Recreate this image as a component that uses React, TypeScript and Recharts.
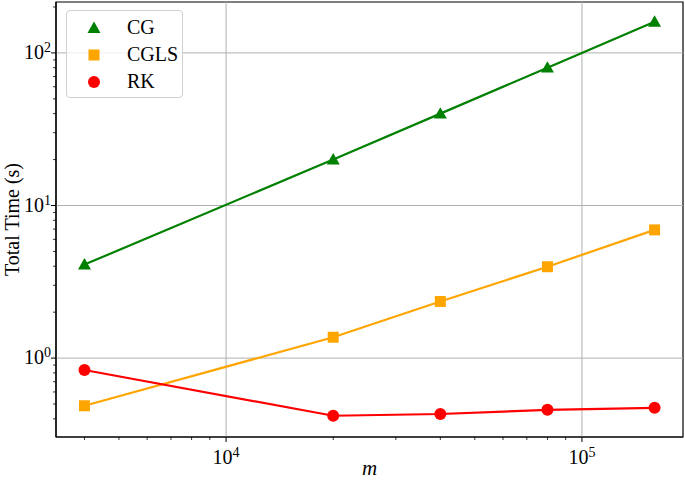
import React from 'react';
import {
  LineChart,
  Line,
  XAxis,
  YAxis,
  ReferenceArea,
  ReferenceLine,
} from 'recharts';

const mValues = [4000, 20000, 40000, 80000, 160000];
const cgTimes = [4.1, 20, 40, 80, 160];
const cglsTimes = [0.487, 1.37, 2.35, 3.97, 6.92];
const rkTimes = [0.835, 0.419, 0.43, 0.458, 0.472];

const xMajor = [1e4, 1e5];
const xMinor = [4000, 5000, 6000, 7000, 8000, 9000, 20000, 30000, 40000, 50000, 60000, 70000, 80000, 90000];
const yMajor = [1, 10, 100];
const yMinor = [0.4, 0.5, 0.6, 0.7, 0.8, 0.9, 2, 3, 4, 5, 6, 7, 8, 9, 20, 30, 40, 50, 60, 70, 80, 90, 200];

const xDomain = [3327, 192300];
const yDomain = [0.304, 215.6];

const FONT = '"Liberation Serif", "DejaVu Serif", serif';

const data = mValues.map((m, i) => ({
  m,
  cg: cgTimes[i],
  cgls: cglsTimes[i],
  rk: rkTimes[i],
}));

const series = [
  { key: 'cg', name: 'CG', color: '#008000', marker: 'triangle' },
  { key: 'cgls', name: 'CGLS', color: '#ffa500', marker: 'square' },
  { key: 'rk', name: 'RK', color: '#ff0000', marker: 'circle' },
];

function Marker({ cx, cy, color, marker }: any) {
  if (cx == null || cy == null) return null;
  if (marker === 'triangle') {
    const s = 6.5;
    return (
      <polygon
        points={`${cx},${cy - s} ${cx - s},${cy + s * 0.75} ${cx + s},${cy + s * 0.75}`}
        fill={color}
      />
    );
  }
  if (marker === 'square') {
    return <rect x={cx - 5.5} y={cy - 5.5} width={11} height={11} fill={color} />;
  }
  return <circle cx={cx} cy={cy} r={6} fill={color} />;
}

const powLabel = (v: number) => Math.round(Math.log10(v));
const labelStyle = { fontFamily: FONT, fontSize: 20 };
const supStyle = { fontFamily: FONT, fontSize: 14 };

function XTick({ x, y, payload }: any) {
  const major = xMajor.includes(payload.value);
  return (
    <g>
      <line x1={x} x2={x} y1={y} y2={y + (major ? 5 : 3)} stroke="#000" strokeWidth={major ? 1 : 0.8} />
      {major && (
        <text x={x} y={y + 27} textAnchor="middle" fill="#000" style={labelStyle}>
          10<tspan dy={-7} style={supStyle}>{powLabel(payload.value)}</tspan>
        </text>
      )}
    </g>
  );
}

function YTick({ x, y, payload }: any) {
  const major = yMajor.includes(payload.value);
  return (
    <g>
      <line x1={x} x2={x - (major ? 5 : 3)} y1={y} y2={y} stroke="#000" strokeWidth={major ? 1 : 0.8} />
      {major && (
        <text x={x - 5} y={y + 6} textAnchor="end" fill="#000" style={labelStyle}>
          10<tspan dy={-7} style={supStyle}>{powLabel(payload.value)}</tspan>
        </text>
      )}
    </g>
  );
}

function YLabel({ viewBox }: any) {
  const cx = viewBox.x + 12;
  const cy = viewBox.y + viewBox.height / 2;
  return (
    <text x={cx} y={cy} transform={`rotate(-90 ${cx} ${cy})`} textAnchor="middle" dominantBaseline="central" fill="#000" style={{ fontFamily: FONT, fontSize: 20 }}>
      Total Time (s)
    </text>
  );
}

function XLabel({ viewBox }: any) {
  const cx = viewBox.x + viewBox.width / 2;
  return (
    <text x={cx} y={viewBox.y + 38} textAnchor="middle" fill="#000" style={{ fontFamily: FONT, fontSize: 21, fontStyle: 'italic' }}>
      m
    </text>
  );
}

function LegendBox() {
  return (
    <div
      style={{
        position: 'absolute',
        left: 66,
        top: 10,
        width: 117,
        height: 88,
        boxSizing: 'border-box',
        border: '1px solid #d0d0d0',
        borderRadius: 4,
        background: 'rgba(255,255,255,0.8)',
        padding: '3px 0 0 20px',
        fontFamily: FONT,
        fontSize: 20,
      }}
    >
      {series.map((s) => (
        <div key={s.key} style={{ display: 'flex', alignItems: 'center', height: 27 }}>
          <svg width={14} height={14} style={{ marginRight: 26 }}>
            <Marker cx={7} cy={7} color={s.color} marker={s.marker} />
          </svg>
          <span>{s.name}</span>
        </div>
      ))}
    </div>
  );
}

export default function App() {
  return (
    <div style={{ position: 'absolute', left: 0, top: 0, width: 685, height: 481, background: '#fff' }}>
      <LineChart width={685} height={481} data={data} margin={{ top: 2, right: 2, left: 0, bottom: 0 }}>
        <XAxis
          dataKey="m"
          type="number"
          scale="log"
          domain={xDomain}
          allowDataOverflow
          ticks={[...xMajor, ...xMinor]}
          interval={0}
          tick={<XTick />}
          tickSize={0}
          tickMargin={0}
          tickLine={false}
          axisLine={{ stroke: '#000', strokeWidth: 1.2 }}
          height={44}
          label={<XLabel />}
        />
        <YAxis
          type="number"
          scale="log"
          domain={yDomain}
          allowDataOverflow
          ticks={[...yMajor, ...yMinor]}
          interval={0}
          tick={<YTick />}
          tickSize={0}
          tickMargin={0}
          tickLine={false}
          axisLine={{ stroke: '#000', strokeWidth: 1.2 }}
          width={56}
          label={<YLabel />}
        />
        {xMajor.map((v) => (
          <ReferenceLine key={`gx-${v}`} x={v} stroke="#b0b0b0" strokeWidth={1} />
        ))}
        {yMajor.map((v) => (
          <ReferenceLine key={`gy-${v}`} y={v} stroke="#b0b0b0" strokeWidth={1} />
        ))}
        <ReferenceArea
          x1={xDomain[0]}
          x2={xDomain[1]}
          y1={yDomain[0]}
          y2={yDomain[1]}
          fill="none"
          stroke="#000"
          strokeWidth={1.2}
          ifOverflow="visible"
        />
        {series.map((s) => (
          <Line
            key={s.key}
            dataKey={s.key}
            name={s.name}
            stroke={s.color}
            strokeWidth={2.2}
            isAnimationActive={false}
            dot={(p: any) => <Marker key={`${s.key}-${p.index}`} cx={p.cx} cy={p.cy} color={s.color} marker={s.marker} />}
            activeDot={false}
          />
        ))}
      </LineChart>
      <LegendBox />
    </div>
  );
}
